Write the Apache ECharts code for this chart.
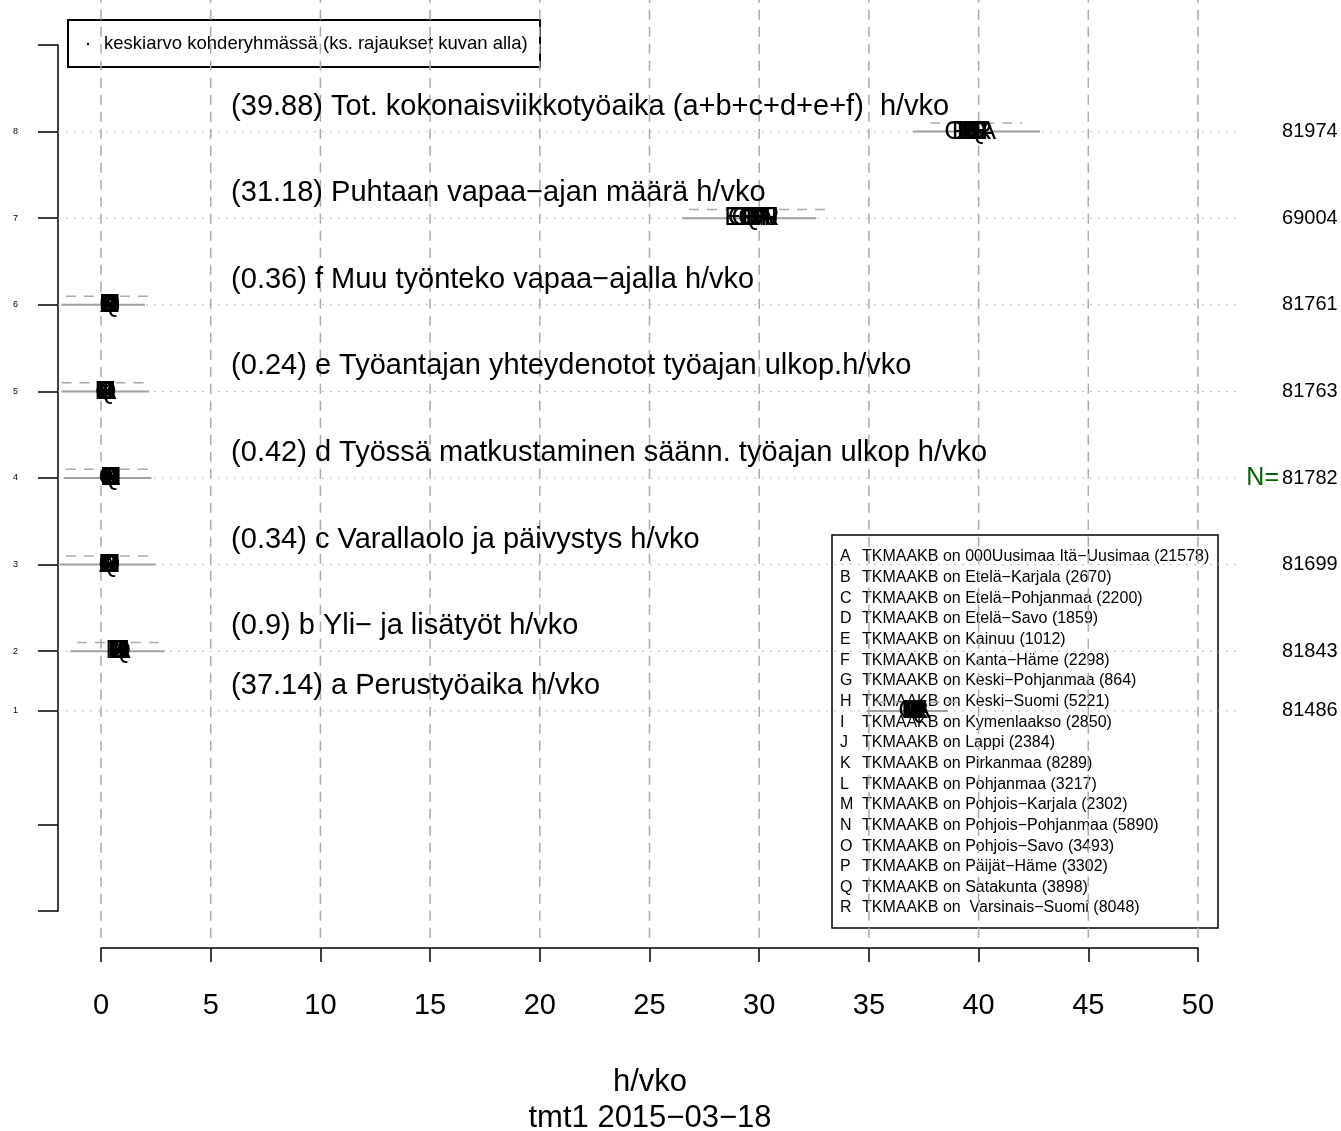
<!DOCTYPE html>
<html>
<head>
<meta charset="utf-8">
<script src="https://cdn.jsdelivr.net/npm/echarts@6/dist/echarts.min.js"></script>
<style>
  html, body { margin: 0; padding: 0; background: #fff; }
  #main { width: 1341px; height: 1131px; }
</style>
</head>
<body>
<div id="main"></div>
<script>
  // rivit alhaalta ylos (a ... Tot.)
  var rowLabels = [
    '(37.14) a Perustyöaika h/vko',
    '(0.9) b Yli− ja lisätyöt h/vko',
    '(0.34) c Varallaolo ja päivystys h/vko',
    '(0.42) d Työssä matkustaminen säänn. työajan ulkop h/vko',
    '(0.24) e Työantajan yhteydenotot työajan ulkop.h/vko',
    '(0.36) f Muu työnteko vapaa−ajalla h/vko',
    '(31.18) Puhtaan vapaa−ajan määrä h/vko',
    '(39.88) Tot. kokonaisviikkotyöaika (a+b+c+d+e+f)  h/vko'
  ];
  var rowPos = [2.31, 3, 4, 5, 6, 7, 8, 9];
  var rowN = [81486, 81843, 81699, 81782, 81763, 81761, 69004, 81974];

  // harmaat janat: kiintea ja katkoviiva
  var solidLo = [34.9, -1.4, -1.9, -1.7, -1.8, -1.8, 26.5, 37.0];
  var solidHi = [38.6,  2.9,  2.5,  2.3,  2.2,  2.0, 32.6, 42.8];
  var dashLo  = [35.3, -1.1, -1.6, -1.6, -1.8, -1.6, 26.8, 37.8];
  var dashHi  = [39.2,  2.9,  2.4,  2.5,  2.2,  2.3, 33.3, 42.0];

  var regionCodes = ['A','B','C','D','E','F','G','H','I','J','K','L','M','N','O','P','Q','R'];
  var regionNames = ['000Uusimaa Itä−Uusimaa', 'Etelä−Karjala', 'Etelä−Pohjanmaa', 'Etelä−Savo',
    'Kainuu', 'Kanta−Häme', 'Keski−Pohjanmaa', 'Keski−Suomi', 'Kymenlaakso', 'Lappi',
    'Pirkanmaa', 'Pohjanmaa', 'Pohjois−Karjala', 'Pohjois−Pohjanmaa', 'Pohjois−Savo',
    'Päijät−Häme', 'Satakunta', ' Varsinais−Suomi'];
  var regionN = [21578, 2670, 2200, 1859, 1012, 2298, 864, 5221, 2850, 2384, 8289, 3217,
    2302, 5890, 3493, 3302, 3898, 8048];

  // maakuntien keskiarvot riveittain (A..R)
  var meansA   = [37.4, 37.0, 37.1, 36.9, 37.2, 37.3, 36.8, 37.1, 37.2, 37.0, 37.2, 36.9, 37.0, 37.1, 37.0, 37.2, 37.1, 37.3];
  var meansB   = [0.95, 0.80, 0.85, 0.75, 0.70, 0.90, 0.85, 0.80, 0.90, 0.75, 0.85, 0.80, 0.70, 0.90, 0.80, 0.85, 0.90, 0.85];
  var meansC   = [0.30, 0.40, 0.35, 0.45, 0.40, 0.30, 0.35, 0.35, 0.30, 0.45, 0.30, 0.40, 0.40, 0.35, 0.40, 0.30, 0.35, 0.30];
  var meansD   = [0.45, 0.40, 0.35, 0.40, 0.50, 0.40, 0.35, 0.45, 0.40, 0.50, 0.45, 0.40, 0.45, 0.50, 0.40, 0.45, 0.40, 0.40];
  var meansE   = [0.30, 0.20, 0.20, 0.25, 0.20, 0.25, 0.20, 0.25, 0.20, 0.25, 0.25, 0.20, 0.20, 0.25, 0.25, 0.20, 0.20, 0.25];
  var meansF   = [0.35, 0.40, 0.35, 0.45, 0.40, 0.35, 0.45, 0.35, 0.35, 0.40, 0.35, 0.40, 0.40, 0.35, 0.40, 0.35, 0.40, 0.35];
  var meansVap = [30.3, 29.6, 29.0, 29.8, 28.8, 29.9, 29.2, 30.1, 29.7, 30.6, 30.2, 29.4, 30.0, 30.4, 29.5, 29.9, 29.6, 30.5];
  var meansTot = [40.4, 39.6, 39.9, 39.2, 40.0, 39.8, 38.9, 39.7, 39.9, 40.1, 39.8, 39.4, 39.5, 40.0, 39.6, 39.7, 39.9, 40.2];
  var means = [meansA, meansB, meansC, meansD, meansE, meansF, meansVap, meansTot];

  var xTicks = [0, 5, 10, 15, 20, 25, 30, 35, 40, 45, 50];

  var FONT = 'Liberation Sans, Arial, sans-serif';
  var series = [];

  // vaakajanat: [x0, x1, y] -> akselin asteikolla, myos akselialueen ulkopuolelle
  function segSeries(data, style, z) {
    return {
      type: 'custom', clip: false, silent: true, z: z,
      renderItem: function (params, api) {
        var y = api.value(2);
        var a = api.coord([0, y]), b = api.coord([50, y]);
        var k = (b[0] - a[0]) / 50;
        return {
          type: 'line',
          shape: { x1: a[0] + api.value(0) * k, y1: a[1], x2: a[0] + api.value(1) * k, y2: a[1] },
          style: style
        };
      },
      data: data
    };
  }

  // pystysuorat katkoviivat
  xTicks.forEach(function (t) {
    series.push({
      type: 'line', clip: false, silent: true, symbol: 'none', z: 1,
      lineStyle: { color: '#aaaaaa', width: 1.5, type: [10, 7] },
      data: [[t, -0.31], [t, 10.52]]
    });
  });

  series.push(segSeries(rowPos.map(function (y) { return [-1.96, 51.9, y]; }),
    { stroke: '#bbbbbb', lineWidth: 1, lineDash: [2, 6] }, 1));
  series.push(segSeries(rowPos.map(function (y, i) { return [solidLo[i], solidHi[i], y]; }),
    { stroke: '#a0a0a0', lineWidth: 2 }, 2));
  series.push(segSeries(rowPos.map(function (y, i) { return [dashLo[i], dashHi[i], y + 0.1]; }),
    { stroke: '#aaaaaa', lineWidth: 1.5, lineDash: [10, 8] }, 2));

  // maakuntakirjaimet
  var letterData = [];
  var letterText = [];
  means.forEach(function (arr, i) {
    arr.forEach(function (v, j) {
      letterData.push([v, rowPos[i]]);
      letterText.push(regionCodes[j]);
    });
  });

  function textSeries(data, texts, font, dy, align, z) {
    return {
      type: 'custom', clip: false, silent: true, z: z,
      renderItem: function (params, api) {
        var p = api.coord([api.value(0), api.value(1)]);
        return {
          type: 'text', x: p[0], y: p[1] + dy,
          style: { text: texts[params.dataIndex], fill: '#000', font: font,
            textAlign: align, textVerticalAlign: 'middle' }
        };
      },
      data: data
    };
  }

  series.push(textSeries(letterData, letterText, '26px ' + FONT, 0, 'center', 5));
  series.push(textSeries(rowPos.map(function (y) { return [5.93, y]; }), rowLabels,
    '29px ' + FONT, -25, 'left', 4));
  series.push(textSeries(rowPos.map(function (y) { return [53.83, y]; }),
    rowN.map(String), '20px ' + FONT, 0, 'left', 4));

  // selite oikealla alhaalla
  var legendItems = [{
    type: 'rect', shape: { x: 832, y: 535, width: 386, height: 393 },
    style: { fill: 'none', stroke: '#000', lineWidth: 1.5 }
  }];
  regionCodes.forEach(function (c, j) {
    var y = 557 + j * 20.65;
    legendItems.push({
      type: 'text', x: 840, y: y,
      style: { text: c, fill: '#000', font: '16px ' + FONT, textVerticalAlign: 'middle' }
    });
    legendItems.push({
      type: 'text', x: 862, y: y,
      style: { text: 'TKMAAKB on ' + regionNames[j] + ' (' + regionN[j] + ')', fill: '#000',
        font: '16px ' + FONT, textVerticalAlign: 'middle' }
    });
  });

  var graphics = legendItems.concat([
    {
      type: 'rect', shape: { x: 68, y: 20, width: 472, height: 47 },
      style: { fill: 'none', stroke: '#000', lineWidth: 2 }
    },
    {
      type: 'circle', shape: { cx: 88, cy: 44, r: 1.2 },
      style: { fill: '#000080' }
    },
    {
      type: 'text', x: 104, y: 44,
      style: { text: 'keskiarvo kohderyhmässä (ks. rajaukset kuvan alla)', fill: '#000',
        font: '18.5px ' + FONT, textVerticalAlign: 'middle' }
    },
    {
      type: 'text', x: 1279, y: 478,
      style: { text: 'N=', fill: '#006400', font: '25px ' + FONT,
        textAlign: 'right', textVerticalAlign: 'middle' }
    },
    {
      type: 'text', x: 650, y: 1082,
      style: { text: 'h/vko', fill: '#000', font: '31px ' + FONT,
        textAlign: 'center', textVerticalAlign: 'middle' }
    },
    {
      type: 'text', x: 650, y: 1118,
      style: { text: 'tmt1 2015−03−18', fill: '#000', font: '31px ' + FONT,
        textAlign: 'center', textVerticalAlign: 'middle' }
    }
  ]);

  var option = {
    animation: false,
    backgroundColor: '#fff',
    grid: { left: 101, right: 143, top: 45, bottom: 220 },
    xAxis: {
      type: 'value', min: 0, max: 50, interval: 5,
      offset: 37,
      axisLine: { onZero: false, lineStyle: { color: '#000', width: 1.5 } },
      axisTick: { length: 14, lineStyle: { color: '#000', width: 1.5 } },
      axisLabel: { margin: 43, color: '#000', fontSize: 29, fontFamily: FONT },
      splitLine: { show: false }
    },
    yAxis: {
      type: 'value', min: 0, max: 10,
      offset: 43,
      axisLine: { show: true, onZero: false, lineStyle: { color: '#000', width: 1.5 } },
      axisTick: {
        show: true, length: 20, customValues: [0, 1, 10].concat(rowPos),
        lineStyle: { color: '#000', width: 1.5 }
      },
      axisLabel: {
        show: true, customValues: rowPos, margin: 40, color: '#000', fontSize: 9,
        fontFamily: FONT,
        formatter: function (v) {
          var k = rowPos.indexOf(v);
          return k >= 0 ? String(k + 1) : '';
        }
      },
      splitLine: { show: false }
    },
    graphic: graphics,
    series: series
  };

  var chart = echarts.init(document.getElementById('main'));
  chart.setOption(option);
</script>
</body>
</html>
